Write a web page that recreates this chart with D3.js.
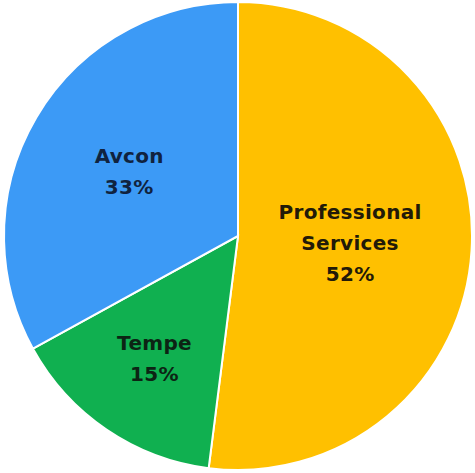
<!DOCTYPE html>
<html>
<head>
<meta charset="utf-8">
<script src="https://cdn.jsdelivr.net/npm/d3@7"></script>
<style>
  body { margin: 0; background: #fff; }
  svg text { font-family: "DejaVu Sans", sans-serif; font-weight: bold; }
</style>
</head>
<body>
<div id="chart"></div>
<script>
// pie data, clockwise from 12 o'clock
let categories = ['Professional Services', 'Tempe', 'Avcon']
let shares = [52, 15, 33]
let labelLines = [['Professional', 'Services'], ['Tempe'], ['Avcon']]

let colors = ['#FFC000', '#10B050', '#3C9AF6']
let textColors = ['#221a08', '#0c2414', '#10233f']
// Excel "best fit" puts the labels at slightly different depths
let labelDepth = [0.48, 0.635, 0.54]

let width = 475
let height = 473
let cx = 238
let cy = 236
let radius = 234

let svg = d3.select('#chart')
    .append('svg')
    .attr('width', width)
    .attr('height', height)

let data = categories.map((c, i) => ({ name: c, value: shares[i], lines: labelLines[i], i: i }))

let pie = d3.pie()
    .sort(null)
    .value(d => d.value)

let arc = d3.arc()
    .innerRadius(0)
    .outerRadius(radius)

let g = svg.append('g')
    .attr('transform', `translate(${cx},${cy})`)

let arcs = pie(data)

g.selectAll('path')
    .data(arcs)
    .join('path')
    .attr('d', arc)
    .attr('fill', d => colors[d.data.i])
    .attr('stroke', '#fff')
    .attr('stroke-width', 2)

let lineHeight = 31

arcs.forEach(d => {
    let r = radius * labelDepth[d.data.i]
    let labelArc = d3.arc().innerRadius(r).outerRadius(r)
    let [x, y] = labelArc.centroid(d)
    let lines = d.data.lines.concat([d.data.value + '%'])
    let top = y - (lines.length - 1) * lineHeight / 2

    let text = g.append('text')
        .attr('text-anchor', 'middle')
        .attr('fill', textColors[d.data.i])
        .style('font-size', '20px')
        .style('letter-spacing', '0.3px')

    lines.forEach((l, k) => {
        text.append('tspan')
            .attr('x', x)
            .attr('y', top + k * lineHeight)
            .attr('dy', '0.35em')
            .text(l)
    })
})
</script>
</body>
</html>
